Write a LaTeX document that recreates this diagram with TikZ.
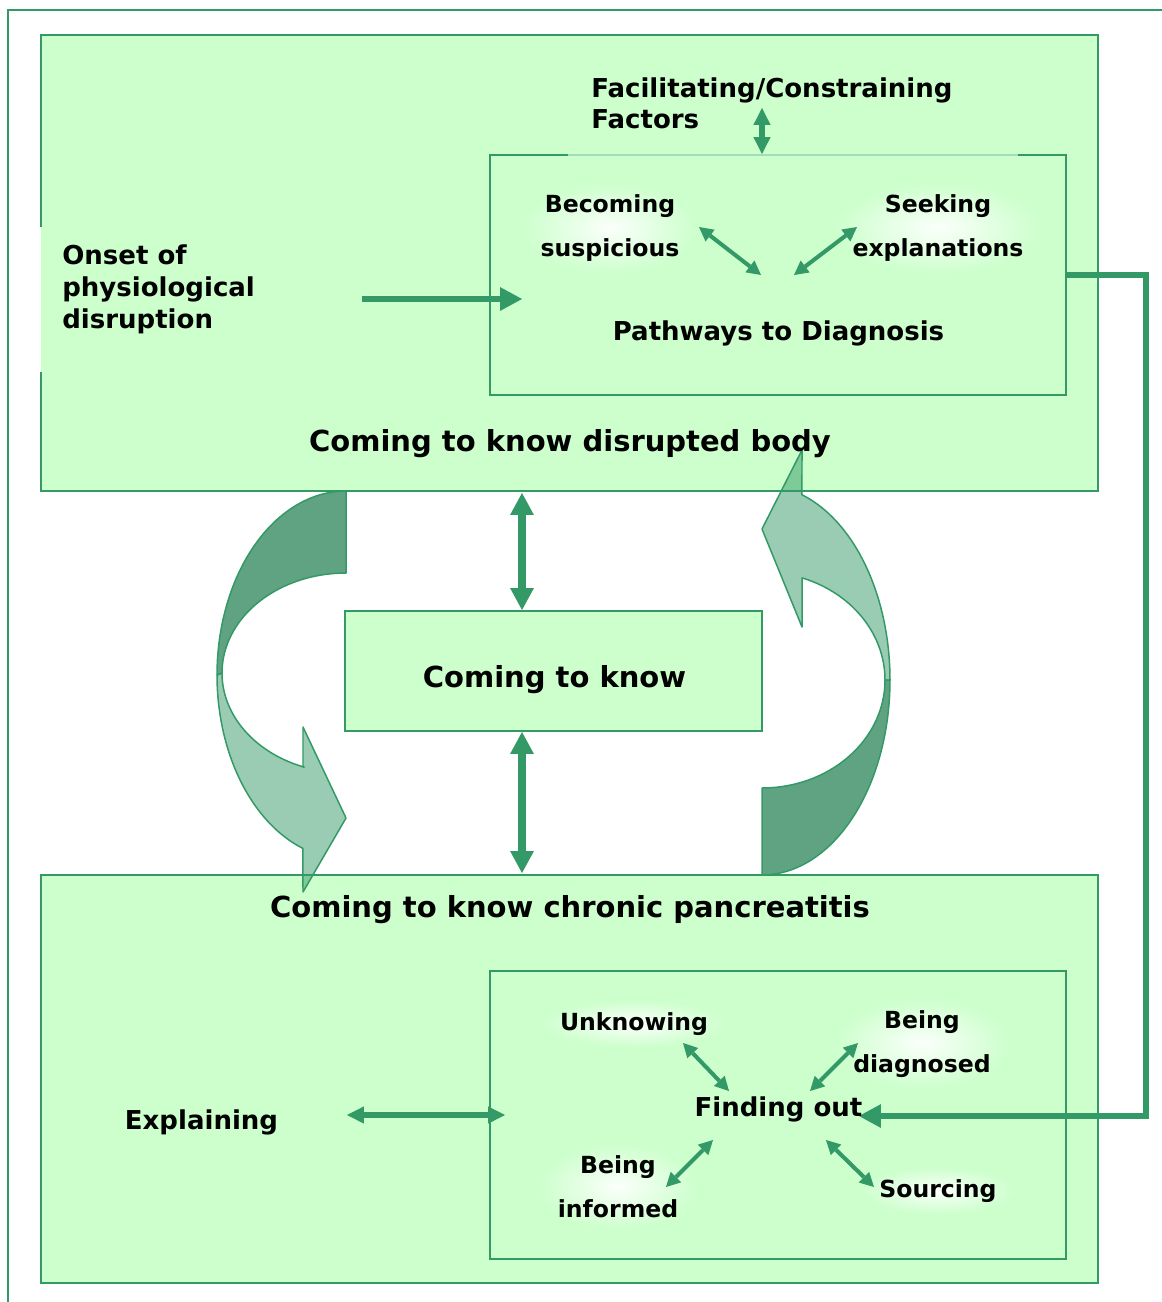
\documentclass[tikz,border=0pt]{standalone}
\usepackage{fontspec}
\setmainfont{DejaVu Sans}
\usetikzlibrary{arrows.meta,calc}
\definecolor{boxfill}{HTML}{CCFFCC}
\definecolor{edge}{HTML}{339966}
\definecolor{deepband}{HTML}{5FA383}
\definecolor{paleline}{HTML}{A3DDB5}
\tikzset{
  bigtip/.tip={Triangle[length=12.5pt,width=13.6pt,line width=0pt]},
  midtip/.tip={Triangle[length=9.6pt,width=9.8pt,line width=0pt]},
  smalltip/.tip={Triangle[length=8pt,width=8.5pt,line width=0pt]},
}
\begin{document}
\begin{tikzpicture}[x=0.02cm,y=-0.02cm,
  panel/.style={fill=boxfill, draw=none, inner sep=0pt, outer sep=0pt},
  rim/.style={draw=edge, line width=1.1pt},
  small/.style={font=\bfseries\fontsize{13.4}{25}\selectfont, align=center, inner sep=0pt, anchor=base},
  medium/.style={font=\bfseries\fontsize{14.8}{18}\selectfont, inner sep=0pt, anchor=base},
  big/.style={font=\bfseries\fontsize{16.5}{20}\selectfont, inner sep=0pt, anchor=base},
  glow/.style={shade, inner color=white!92!boxfill, outer color=boxfill, inner xsep=11pt, inner ysep=7pt},
  fat/.style={draw=edge, line width=3.8pt, -bigtip},
  fatboth/.style={draw=edge, line width=4.4pt, bigtip-bigtip},
  midboth/.style={draw=edge, line width=3.4pt, midtip-midtip},
  slimboth/.style={draw=edge, line width=2.3pt, smalltip-smalltip},
  band/.style={draw=edge, line width=0.85pt, line join=round},
]
\useasboundingbox (0,0) rectangle (1162,1302);

% outer frame, open on the right and at the bottom
\draw[edge, line width=0.8pt] (8,1302) -- (8,10) -- (1162,10);

% panels
\node[panel, minimum width=21.14cm, minimum height=9.12cm] (upper) at (569.5,263) {};
\node[panel, rim, minimum width=21.14cm, minimum height=8.16cm] (lower) at (569.5,1079) {};
\node[panel, rim, minimum width=8.34cm, minimum height=2.4cm] (core) at (553.5,671) {};
\node[panel, minimum width=11.52cm, minimum height=4.8cm] (pathbox) at (778,275) {};
\node[panel, rim, minimum width=11.52cm, minimum height=5.76cm] (findbox) at (778,1115) {};

% upper panel border, interrupted beside the onset label
\draw[rim] ($(upper.north west)+(0,192)$) -- (upper.north west) -- (upper.north east)
  -- (upper.south east) -- (upper.south west) -- ($(upper.south west)+(0,-119)$);
% pathways box border with a pale top stretch
\draw[rim] ($(pathbox.north west)+(78,0)$) -- (pathbox.north west) -- (pathbox.south west)
  -- (pathbox.south east) -- (pathbox.north east) -- ($(pathbox.north east)+(-48,0)$);
\draw[paleline, line width=0.7pt] ($(pathbox.north west)+(78,0)$) -- ($(pathbox.north east)+(-48,0)$);

% glowing sub-labels (base anchor sits on the last line)
\node[small, glow] (suspicious) at (610,256.7) {Becoming\\suspicious};
\node[small, glow] (explanations) at (938,256.7) {Seeking\\explanations};
\node[small, glow] (unknowing) at (634,1030) {Unknowing};
\node[small, glow] (diagnosed) at (922,1072) {Being\\diagnosed};
\node[small, glow] (informed) at (618,1217) {Being\\informed};
\node[small, glow] (sourcing) at (938,1197) {Sourcing};

% arrow end points
\coordinate (fc-a) at (762,108);   \coordinate (fc-b) at (762,154);
\coordinate (bs-a) at (699,227);   \coordinate (bs-b) at (761,275);
\coordinate (se-a) at (857,227);   \coordinate (se-b) at (794,275);
\coordinate (on-a) at (362,299);   \coordinate (on-b) at (522,299);
\coordinate (up-a) at (522,493);   \coordinate (up-b) at (522,610);
\coordinate (dn-a) at (522,732);   \coordinate (dn-b) at (522,873);
\coordinate (ex-a) at (347,1115);  \coordinate (ex-b) at (505,1115);
\coordinate (un-a) at (683,1043);  \coordinate (un-b) at (729,1091);
\coordinate (di-a) at (858,1043);  \coordinate (di-b) at (810,1091);
\coordinate (in-a) at (713,1140);  \coordinate (in-b) at (666,1187);
\coordinate (so-a) at (826,1140);  \coordinate (so-b) at (874,1187);
\coordinate (findtip) at (859,1116);

% connectors
\draw[midboth] (fc-a) -- (fc-b);
\draw[slimboth] (bs-a) -- (bs-b);
\draw[slimboth] (se-a) -- (se-b);
\draw[fat] (on-a) -- (on-b);
\draw[fatboth] (up-a) -- (up-b);
\draw[fatboth] (dn-a) -- (dn-b);
\draw[midboth] (ex-a) -- (ex-b);
\draw[slimboth] (un-a) -- (un-b);
\draw[slimboth] (di-a) -- (di-b);
\draw[slimboth] (in-a) -- (in-b);
\draw[slimboth] (so-a) -- (so-b);
\draw[fat] (pathbox.east) -- ++(80,0) |- (findtip);

% left curved band: shaded back, translucent front with head
\filldraw[band, fill=deepband]
  plot[domain=90:180, samples=40, variable=\t] ({346+129*cos(\t)},{675-184*sin(\t)})
  -- plot[domain=0:90, samples=40, variable=\t] ({346+124*cos(180-\t)},{673-100*sin(180-\t)})
  -- cycle;
\filldraw[band, fill=edge, fill opacity=0.5]
  plot[domain=180:250.5, samples=40, variable=\t] ({346+129*cos(\t)},{675-184*sin(\t)})
  -- (303,892) -- (346,818) -- (303,727) -- (303,767)
  -- plot[domain=0:70.3, samples=40, variable=\t] ({346+124*cos(250.3-\t)},{673-100*sin(250.3-\t)})
  -- cycle;

% right curved band
\filldraw[band, fill=deepband]
  plot[domain=270:360, samples=40, variable=\t] ({762+128*cos(\t)},{680-195*sin(\t)})
  -- plot[domain=0:90, samples=40, variable=\t] ({762+123*cos(360-\t)},{680-108*sin(360-\t)})
  -- cycle;
\filldraw[band, fill=edge, fill opacity=0.5]
  plot[domain=0:71.8, samples=40, variable=\t] ({762+128*cos(\t)},{680-195*sin(\t)})
  -- (802,450) -- (762,529) -- (802,627) -- (802,580)
  -- plot[domain=0:71, samples=40, variable=\t] ({762+123*cos(71-\t)},{680-108*sin(71-\t)})
  -- cycle;

% main labels (base anchor sits on the last line)
\node[medium, anchor=base west, align=left, font=\bfseries\fontsize{14.8}{17.6}\selectfont]
  (factors) at (591,128) {Facilitating/Constraining\\Factors};
\node[medium, anchor=base west, align=left] (onset) at (62,328) {Onset of\\physiological\\disruption};
\node[medium] (pathways) at (778.5,340) {Pathways to Diagnosis};
\node[big] (bodytitle) at (570,451) {Coming to know disrupted body};
\node[big] (coretitle) at (554.5,687) {Coming to know};
\node[big] (cptitle) at (570,917) {Coming to know chronic pancreatitis};
\node[medium] (explaining) at (201.5,1129) {Explaining};
\node[medium] (findingout) at (778.5,1116) {Finding out};
\end{tikzpicture}
\end{document}
